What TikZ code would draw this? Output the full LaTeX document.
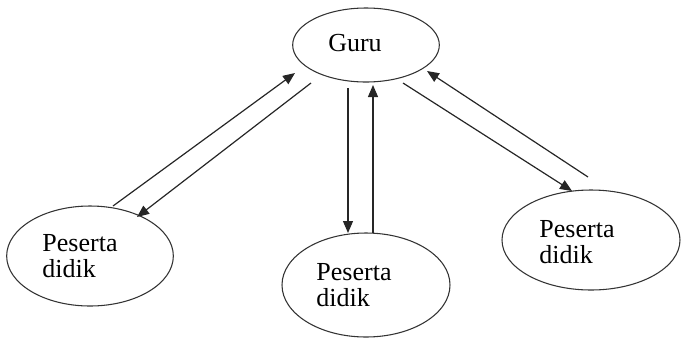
\documentclass[tikz,border=0pt]{standalone}
\usepackage{fontspec}
\setmainfont{Liberation Serif}
\usetikzlibrary{arrows.meta,positioning,calc,shapes.geometric}
\tikzset{
  elip/.style = {ellipse, draw=black!80, line width=0.8pt, inner sep=0pt},
  lbl/.style  = {font=\fontsize{19.5}{19.5}\selectfont, align=left, inner sep=0pt},
  arr/.style  = {-{Triangle[length=9pt, width=7.5pt]}, line width=0.9pt, black!85},
}
\begin{document}
\begin{tikzpicture}[x=0.75pt, y=-0.75pt]
  \useasboundingbox (0,0) rectangle (682,337);
  % ellipses
  \node[elip, minimum width=110pt, minimum height=55.5pt] (guru) at (366,45) {};
  \node[elip, minimum width=125pt, minimum height=75pt]   (kiri) at (90,256) {};
  \node[elip, minimum width=126pt, minimum height=78pt]   (tengah) at (366,285) {};
  \node[elip, minimum width=133.5pt, minimum height=75pt] (kanan) at (591,240) {};
  % texts
  \node[lbl] (tguru) at ([shift={(-11,-2)}]guru.center) {Guru};
  \node[lbl] (tkiri) at ([shift={(-10,0)}]kiri.center) {Peserta\\didik};
  \node[lbl] (ttengah) at ([shift={(-12,0)}]tengah.center) {Peserta\\didik};
  \node[lbl] (tkanan) at ([shift={(-14,2)}]kanan.center) {Peserta\\didik};
  % left pair
  \draw[arr] ([shift={(23,-50)}]kiri.center) -- ([shift={(-71,28)}]guru.center);
  \draw[arr] ([shift={(-55,38)}]guru.center) -- ([shift={(47,-39)}]kiri.center);
  % middle pair
  \draw[arr] ([shift={(-18,43)}]guru.center) -- ([shift={(-18,-52)}]tengah.center);
  \draw[arr] ([shift={(7,-52)}]tengah.center) -- ([shift={(7,40)}]guru.center);
  % right pair
  \draw[arr] ([shift={(37,38)}]guru.center) -- ([shift={(-19,-49)}]kanan.center);
  \draw[arr] ([shift={(-3,-63)}]kanan.center) -- ([shift={(61,26)}]guru.center);
\end{tikzpicture}
\end{document}
